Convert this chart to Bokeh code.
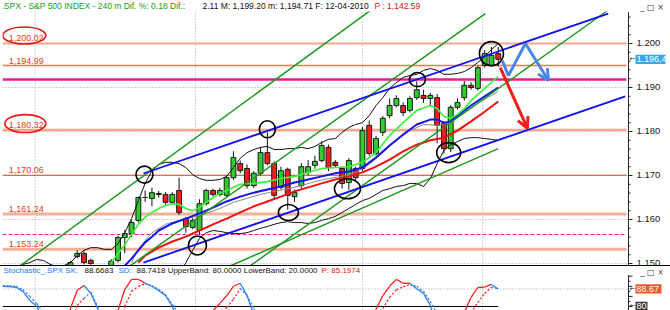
from bokeh.plotting import figure
from bokeh.models import Range1d, Label, Span, Arrow, OpenHead, Div, ColumnDataSource
from bokeh.layouts import column
from bokeh.embed import file_html
from bokeh.resources import INLINE
from bokeh.core.properties import value

# ---------------- data ----------------
bar_idx = list(range(64))
bar_open = [1149.5, 1151.6, 1152.3, 1150.7, 1149.0, 1147.6, 1149.5, 1150.7, 1155.9, 1156.8,
            1159.8, 1165.0, 1164.8, 1165.9, 1165.7, 1163.9, 1166.6, 1160.2, 1158.2, 1157.5,
            1163.6, 1166.6, 1165.7, 1165.5, 1169.5, 1172.7, 1171.6, 1167.7, 1170.5, 1175.2,
            1172.7, 1167.3, 1171.4, 1165.2, 1167.7, 1170.7, 1172.3, 1173.4, 1176.4, 1173.0,
            1171.6, 1168.4, 1171.6, 1171.6, 1181.4, 1175.0, 1179.8, 1183.6, 1185.9, 1185.9,
            1184.8, 1187.7, 1188.2, 1187.5, 1187.7, 1181.8, 1176.1, 1185.5, 1187.7, 1190.5,
            1189.8, 1195.0, 1195.0, 1197.7]
bar_high = [1150.6, 1153.0, 1152.8, 1151.1, 1149.6, 1149.3, 1151.0, 1156.3, 1157.6, 1159.8,
            1165.2, 1166.6, 1167.2, 1166.5, 1166.2, 1166.2, 1169.5, 1160.6, 1160.3, 1164.6,
            1167.0, 1167.0, 1167.2, 1170.0, 1175.5, 1173.4, 1172.5, 1171.0, 1176.4, 1179.8,
            1173.2, 1172.0, 1171.8, 1166.8, 1172.8, 1173.5, 1174.5, 1177.8, 1177.0, 1173.5,
            1172.0, 1174.0, 1172.0, 1181.0, 1182.5, 1179.0, 1183.5, 1187.5, 1188.2, 1186.6,
            1188.0, 1191.4, 1189.5, 1188.8, 1188.5, 1182.3, 1186.0, 1187.5, 1191.5, 1191.2,
            1195.0, 1198.5, 1199.2, 1199.2]
bar_low = [1149.0, 1151.2, 1149.8, 1149.4, 1147.0, 1147.0, 1149.0, 1150.2, 1152.3, 1156.0,
           1159.3, 1164.0, 1163.0, 1165.0, 1163.4, 1163.4, 1161.0, 1157.0, 1157.8, 1156.5,
           1163.2, 1165.3, 1165.2, 1165.0, 1169.0, 1170.5, 1167.0, 1167.2, 1170.0, 1172.3,
           1164.5, 1166.8, 1162.2, 1164.0, 1167.0, 1170.0, 1171.5, 1173.0, 1171.0, 1171.8,
           1167.0, 1166.7, 1169.0, 1171.0, 1174.5, 1174.5, 1179.0, 1183.0, 1185.5, 1183.5,
           1184.3, 1187.2, 1186.5, 1186.0, 1177.3, 1175.0, 1175.3, 1185.0, 1187.0, 1189.5,
           1189.3, 1194.5, 1194.7, 1194.71]
bar_close = [1150.2, 1152.3, 1150.2, 1150.0, 1147.5, 1148.8, 1150.5, 1155.9, 1156.8, 1159.3,
             1165.0, 1165.0, 1166.1, 1165.7, 1163.9, 1165.7, 1161.6, 1158.4, 1159.8, 1163.6,
             1166.6, 1165.7, 1166.6, 1169.5, 1174.1, 1171.1, 1167.7, 1170.5, 1175.2, 1172.7,
             1165.5, 1171.1, 1165.5, 1166.1, 1172.0, 1172.0, 1173.2, 1176.8, 1171.8, 1172.3,
             1168.2, 1173.4, 1169.5, 1180.2, 1175.0, 1178.4, 1183.0, 1185.9, 1187.5, 1184.3,
             1187.5, 1189.5, 1187.5, 1188.2, 1181.4, 1176.1, 1185.5, 1186.6, 1190.5, 1190.0,
             1194.5, 1197.7, 1197.3, 1196.4]

lime_idx = [6, 8, 9, 10, 11, 12, 13, 14, 15, 16, 17, 18, 19, 20, 21, 22, 23, 25, 27, 29, 31, 33, 35,
            37, 39, 41, 43, 45, 47, 49, 51, 53, 54, 55, 56, 57, 58, 59, 61, 63]
lime_val = [1150.2, 1154.3, 1156.6, 1158.9, 1160.5, 1161.6, 1162.5, 1163.2, 1163.6, 1163.4,
            1162.5, 1162.0, 1162.7, 1163.9, 1165.0, 1165.9, 1166.6, 1168.0, 1168.2, 1168.6,
            1169.3, 1169.8, 1170.7, 1171.6, 1171.8, 1172.0, 1173.0, 1175.2, 1179.1, 1182.0,
            1184.8, 1185.9, 1185.2, 1183.4, 1183.0, 1183.9, 1185.2, 1187.0, 1189.8, 1192.5]

blue_ma_idx = [8, 9, 10, 11, 12, 13, 15, 17, 19, 21, 23, 25, 27, 29, 31, 33, 35, 37, 39, 41, 43, 45,
               47, 49, 51, 53, 54, 55, 56, 57, 59, 61, 63]
blue_ma_val = [1149.5, 1151.1, 1153.0, 1154.8, 1156.1, 1157.5, 1159.1, 1160.2, 1161.4, 1162.7,
               1164.1, 1165.2, 1166.1, 1166.8, 1167.5, 1168.4, 1169.1, 1169.8, 1170.5, 1170.9,
               1171.8, 1174.1, 1176.8, 1179.3, 1181.6, 1182.7, 1182.7, 1182.0, 1182.3, 1183.6,
               1185.9, 1188.0, 1190.0]

gray_ma_idx = [9, 10, 12, 14, 16, 18, 20, 22, 24, 26, 28, 30, 32, 34, 36, 38, 40, 42, 44, 46, 48,
               50, 52, 54, 56, 58, 60, 62, 63]
gray_ma_val = [1150.2, 1153.4, 1157.0, 1158.9, 1159.8, 1160.5, 1161.4, 1162.5, 1163.9, 1164.8,
               1165.7, 1166.4, 1167.0, 1167.7, 1168.6, 1169.3, 1169.8, 1170.7, 1172.5, 1175.2,
               1178.0, 1180.2, 1181.6, 1181.4, 1182.0, 1184.3, 1186.4, 1188.2, 1189.1]

red_ma_idx = [10, 11, 13, 15, 17, 19, 21, 23, 25, 27, 29, 31, 33, 35, 37, 39, 41, 43, 45, 47, 49,
              51, 53, 55, 57, 59, 61, 63]
red_ma_val = [1150.2, 1151.8, 1153.6, 1155.0, 1156.1, 1157.5, 1158.9, 1160.2, 1161.6, 1163.0,
              1164.1, 1165.2, 1166.4, 1167.3, 1168.2, 1169.1, 1169.8, 1170.7, 1172.0, 1173.6,
              1175.5, 1177.0, 1178.0, 1178.6, 1180.2, 1182.3, 1184.5, 1186.8]

bb_up_idx = list(range(-10, 64))
bb_up_val = [1148.0, 1148.6, 1149.3, 1149.8, 1150.2, 1150.9, 1150.7, 1149.8, 1149.3, 1149.5,
             1150.2, 1151.8, 1153.0, 1153.6, 1153.6, 1153.2, 1153.2, 1154.5, 1157.0, 1160.2,
             1164.3, 1168.2, 1171.1, 1172.5, 1173.0, 1173.0, 1172.7, 1171.8, 1170.2, 1169.3,
             1168.9, 1168.9, 1169.1, 1169.8, 1171.8, 1173.9, 1175.2, 1175.9, 1176.4, 1176.6,
             1175.9, 1175.9, 1176.1, 1176.1, 1176.4, 1176.1, 1176.6, 1177.5, 1178.2, 1178.4,
             1179.8, 1180.9, 1181.6, 1182.0, 1183.6, 1185.9, 1187.7, 1189.8, 1191.1, 1192.3,
             1192.7, 1193.0, 1193.9, 1194.3, 1193.9, 1193.0, 1193.0, 1193.2, 1193.6, 1194.5,
             1195.7, 1197.0, 1198.6, 1200.0]

bb_lo_idx = list(range(14, 64))
bb_lo_val = [1143.0, 1145.0, 1147.5, 1150.2, 1153.0, 1155.7, 1157.0, 1157.5, 1157.3, 1157.0,
             1156.8, 1156.8, 1157.0, 1157.5, 1158.0, 1158.4, 1158.9, 1159.3, 1159.5, 1159.3,
             1159.3, 1159.1, 1159.3, 1159.8, 1160.2, 1160.7, 1161.6, 1162.5, 1163.4, 1164.3,
             1164.8, 1165.7, 1166.6, 1167.0, 1167.5, 1167.7, 1168.2, 1168.2, 1167.5, 1169.3,
             1172.7, 1175.7, 1177.0, 1177.7, 1178.4, 1178.6, 1178.6, 1178.4, 1178.2, 1178.0]

# horizontal price levels and their labels
level_prices = [1200.02, 1194.99, 1191.8, 1180.32, 1170.06, 1161.24, 1156.6, 1153.24]
label_prices = [1200.02, 1194.99, 1180.32, 1170.06, 1161.24, 1153.24]
label_texts = ["1,200.02", "1,194.99", "1,180.32", "1,170.06", "1,161.24", "1,153.24"]

price_ticks = [1150, 1160, 1170, 1180, 1190, 1200]
price_tick_labels = ["1.150", "1.160", "1.170", "1.180", "1.190", "1.200"]
price_minor = list(range(1150, 1208, 2))
grid_x = [-5.2, 18.4, 43.0, 60.7]

# drawn trend lines (start index, start price, end index, end price)
green_x0 = [-7.4, 8.8, 26.5, 23.6]
green_y0 = [1149.5, 1149.5, 1149.5, 1149.5]
green_x1 = [44.6, 61.1, 79.1, 63.0]
green_y1 = [1208.0, 1206.8, 1207.5, 1176.1]
blue_x0 = [10.75, 10.75]
blue_y0 = [1170.45, 1150.2]
blue_x1 = [79.2, 81.7]
blue_y1 = [1206.8, 1188.0]

# black marker circles (centre index, centre price)
mark_x = [10.9, 18.7, 29.0, 32.1, 40.8, 51.1, 55.7, 62.0]
mark_y = [1170.2, 1154.1, 1180.5, 1161.6, 1167.0, 1191.8, 1175.2, 1197.7]

# red forecast arrow and blue zigzag
red_arrow = [(63.3, 1194.5), (67.3, 1180.7)]
zig_x = [63.6, 64.5, 67.0, 70.4]
zig_y = [1196.1, 1192.7, 1200.0, 1191.6]

# stochastic
stoch_idx = list(range(-10, 64))
stoch_k = [90.0, 89.9, 89.5, 87.5, 83.0, 80.2, 74.0, 62.0, 55.0, 66.0,
           79.0, 88.0, 90.4, 86.5, 79.0, 68.0, 60.0, 78.0, 88.5, 93.4,
           93.4, 91.5, 90.0, 87.8, 85.5, 80.0, 72.0, 55.0, 45.0, 50.0,
           62.0, 78.0, 81.5, 85.3, 90.0, 91.5, 85.4, 76.0, 68.0, 60.0,
           45.0, 40.0, 30.0, 28.0, 35.0, 45.0, 55.0, 62.0, 58.0, 50.0,
           42.0, 48.0, 55.0, 68.0, 72.0, 78.5, 85.4, 90.0, 93.4, 91.5,
           91.4, 88.8, 86.5, 80.5, 68.0, 50.0, 52.0, 62.0, 77.0, 84.5,
           89.4, 89.6, 90.9, 88.67]
stoch_d = [90.3, 90.2, 90.0, 88.4, 85.0, 81.5, 77.5, 68.0, 60.0, 60.0,
           72.0, 80.5, 84.0, 87.2, 80.0, 72.0, 65.0, 70.0, 80.0, 87.5,
           90.0, 91.3, 90.2, 88.5, 85.8, 81.0, 76.0, 66.0, 55.0, 50.0,
           55.0, 64.0, 76.0, 79.5, 83.5, 88.9, 85.5, 79.0, 72.0, 65.0,
           55.0, 48.0, 40.0, 34.0, 32.0, 35.0, 42.0, 50.0, 55.0, 55.0,
           50.0, 47.0, 50.0, 56.0, 63.0, 70.0, 79.0, 84.5, 88.3, 89.8,
           90.8, 90.0, 87.5, 82.5, 76.0, 65.0, 55.0, 55.0, 62.0, 77.0,
           82.0, 86.5, 89.5, 88.74]
stoch_upper_band = 80.0
stoch_ticks = [80, 85, 90, 95]
stoch_minor = [82.5, 87.5, 92.5]

FONT = "Liberation Sans"
X0, X1 = -10.01, 88.37          # visible index range (frame spans the full width)
AX = 82.18                       # index where the price axis sits
PX = 668.0 / (X1 - X0)           # pixels per index unit

# ---------------- main price panel ----------------
p1 = figure(width=670, height=265, title=None, x_range=Range1d(X0, X1),
            y_range=Range1d(1149.545, 1209.77), output_backend="svg", toolbar_location=None,
            y_axis_location=None, x_axis_location=None,
            min_border_left=2, min_border_right=0, min_border_top=0, min_border_bottom=0)
p1.outline_line_color = None
p1.grid.visible = False
p1.background_fill_color = "white"
p1.border_fill_color = "white"

# grid
p1.segment(x0=[X0] * len(price_ticks), y0=price_ticks, x1=[AX] * len(price_ticks), y1=price_ticks,
           line_color="#a8a8a8", line_dash="1 2", line_width=1)
for gx in grid_x:
    p1.add_layout(Span(location=gx, dimension="height", line_color="#a8a8a8",
                       line_dash="1 2", line_width=1, level="underlay"))

# level lines
level_styles = [("#F6A88C", 2, "solid"), ("#F27A50", 1.5, "solid"), ("#EC1C8C", 2.5, "solid"),
                ("#F6A88C", 2.5, "solid"), ("#E5401C", 1.2, "solid"), ("#F6B09A", 3, "solid"),
                ("#EC1C8C", 1, "4 2"), ("#F6B09A", 3, "solid")]
for lv, (lc, lw, ld) in zip(level_prices, level_styles):
    p1.line([X0, AX - 0.3], [lv, lv], line_color=lc, line_width=lw, line_dash=ld)

# candles
cs = ColumnDataSource(dict(
    x=bar_idx, h=bar_high, l=bar_low,
    top=[max(o, c) for o, c in zip(bar_open, bar_close)],
    bottom=[min(o, c) for o, c in zip(bar_open, bar_close)],
    fill=["#2FCB2F" if c >= o else "#EE1E1E" for o, c in zip(bar_open, bar_close)],
))
p1.segment(x0="x", y0="l", x1="x", y1="h", source=cs, line_color="#111111", line_width=1)
p1.vbar(x="x", width=0.72, top="top", bottom="bottom", source=cs,
        fill_color="fill", line_color="#1a1a1a", line_width=1)

# bands and moving averages
p1.line(bb_up_idx, bb_up_val, line_color="#111111", line_width=1)
p1.line(bb_lo_idx, bb_lo_val, line_color="#111111", line_width=1)
p1.line(red_ma_idx, red_ma_val, line_color="#F01010", line_width=2)
p1.line(gray_ma_idx, gray_ma_val, line_color="#8A8A8A", line_width=1)
p1.line(blue_ma_idx, blue_ma_val, line_color="#1414F0", line_width=2)
p1.line(lime_idx, lime_val, line_color="#3CF03C", line_width=1.6)

# trend lines
p1.segment(x0=green_x0, y0=green_y0, x1=green_x1, y1=green_y1,
           line_color="#1F9A1F", line_width=1.5)
p1.segment(x0=blue_x0, y0=blue_y0, x1=blue_x1, y1=blue_y1,
           line_color="#1010F0", line_width=1.8)

# circles
p1.ellipse(x=mark_x, y=mark_y, width=[17, 18, 16, 20, 26, 16, 24, 24],
           height=[17, 19, 17, 16, 20, 14, 20, 24], width_units="screen", height_units="screen",
           fill_color=None, line_color="black", line_width=1.6)

# level labels + red ellipses
p1.text(x=[-9.1] * len(label_prices), y=label_prices, text=label_texts,
        text_font=value(FONT), text_font_size="9px", text_color="#E3401A",
        text_baseline="bottom", y_offset=-2)
p1.ellipse(x=[-6.8, -6.65], y=[1201.8, 1181.8], width=[43, 41], height=[17, 18],
           width_units="screen", height_units="screen", fill_color=None,
           line_color="#E81818", line_width=1.6)

# forecast arrows
p1.add_layout(Arrow(x_start=red_arrow[0][0], y_start=red_arrow[0][1],
                    x_end=red_arrow[1][0], y_end=red_arrow[1][1],
                    line_color="#F41C1C", line_width=3,
                    end=OpenHead(size=11, line_color="#F41C1C", line_width=3)))
p1.line(zig_x[:3], zig_y[:3], line_color="#4A86E8", line_width=3)
p1.add_layout(Arrow(x_start=zig_x[2], y_start=zig_y[2], x_end=zig_x[3], y_end=zig_y[3],
                    line_color="#4A86E8", line_width=3,
                    end=OpenHead(size=11, line_color="#4A86E8", line_width=3)))

# header band
p1.quad(left=[X0 - 1], right=[X1 + 1], bottom=[1207.27], top=[1215], fill_color="white",
        line_color=None)

# price axis (drawn by hand on the right)
p1.segment(x0=[AX], y0=[1149.545], x1=[AX], y1=[1207.1], line_color="#222222", line_width=1)
p1.segment(x0=[AX] * len(price_ticks), y0=price_ticks, x1=[AX + 4 / PX] * len(price_ticks),
           y1=price_ticks, line_color="#222222", line_width=1)
p1.segment(x0=[AX] * len(price_minor), y0=price_minor, x1=[AX + 2 / PX] * len(price_minor),
           y1=price_minor, line_color="#222222", line_width=1)
p1.text(x=[AX + 8 / PX] * len(price_ticks), y=price_ticks, text=price_tick_labels,
        text_font=value(FONT), text_font_size="9.5px", text_color="#202020",
        text_baseline="middle")

last = bar_close[-1]
last_txt = f"{last:,.1f}".replace(",", "_").replace(".", ",").replace("_", ".")
p1.quad(left=[AX + 7 / PX], right=[AX + 37 / PX], bottom=[last - 1.05], top=[last + 1.05],
        fill_color="#36A8EE", line_color=None)
p1.text(x=[AX + 8 / PX], y=[last], text=[last_txt], text_font=value(FONT),
        text_font_size="9px", text_color="white", text_baseline="middle")
p1.text(x=[AX + 1 / PX], y=[last], text=["←"], text_font=value("DejaVu Sans"),
        text_font_size="7px", text_color="#222222", text_baseline="middle")

hdr = [(".SPX - S&P 500 INDEX -  240 m  Dif. %:  0.18  Dif.:", -1, "#14A014"),
       ("2.11  M: 1,199.20  m: 1,194.71  F: 12-04-2010", 200, "#111111"),
       ("P : 1,142.59", 372, "#E81010")]
for txt, xx, col in hdr:
    p1.add_layout(Label(x=xx, y=260, x_units="screen", y_units="screen", text=txt,
                        text_color=col, text_font=FONT, text_font_size="8.5px",
                        text_baseline="middle"))
p1.add_layout(Label(x=638, y=258, x_units="screen", y_units="screen", text="_ □ ×",
                    text_color="#444444", text_font="DejaVu Sans", text_font_size="8px",
                    text_baseline="middle"))

# ---------------- stochastic panel ----------------
p2 = figure(width=670, height=44, title=None, x_range=p1.x_range, y_range=Range1d(78.0, 99.8),
            output_backend="svg", toolbar_location=None, y_axis_location=None,
            x_axis_location=None, min_border_left=2, min_border_right=0,
            min_border_top=0, min_border_bottom=0)
p2.outline_line_color = None
p2.grid.visible = False

p2.segment(x0=[X0], y0=[stoch_k[-1]], x1=[AX], y1=[stoch_k[-1]], line_color="#a8a8a8",
           line_dash="1 2", line_width=1)
for gx in grid_x:
    p2.add_layout(Span(location=gx, dimension="height", line_color="#a8a8a8",
                       line_dash="1 2", line_width=1, level="underlay"))

p2.line([stoch_idx[0], stoch_idx[-1]], [stoch_upper_band, stoch_upper_band],
        line_color="black", line_width=1)

state = ["#FF2020" if k >= d else "#2F80F0" for k, d in zip(stoch_k, stoch_d)]
seg_col = state[1:]
p2.segment(x0=stoch_idx[:-1], y0=stoch_d[:-1], x1=stoch_idx[1:], y1=stoch_d[1:],
           line_color=seg_col, line_width=1.3, line_dash="2 2")
p2.segment(x0=stoch_idx[:-1], y0=stoch_k[:-1], x1=stoch_idx[1:], y1=stoch_k[1:],
           line_color=seg_col, line_width=1.3)

# stochastic axis
p2.segment(x0=[AX], y0=[78.0], x1=[AX], y1=[95.5], line_color="#222222", line_width=1)
p2.segment(x0=[AX] * len(stoch_ticks), y0=stoch_ticks, x1=[AX + 4 / PX] * len(stoch_ticks),
           y1=stoch_ticks, line_color="#222222", line_width=1)
p2.segment(x0=[AX] * len(stoch_minor), y0=stoch_minor, x1=[AX + 2 / PX] * len(stoch_minor),
           y1=stoch_minor, line_color="#222222", line_width=1)
kl = stoch_k[-1]
p2.quad(left=[AX + 7 / PX], right=[AX + 33 / PX], bottom=[kl - 2.3], top=[kl + 2.3],
        fill_color="#F0582A", line_color=None)
p2.text(x=[AX + 8 / PX], y=[kl], text=[f"{kl:.2f}"], text_font=value(FONT),
        text_font_size="9px", text_color="white", text_baseline="middle")
p2.quad(left=[AX + 7 / PX], right=[AX + 19 / PX], bottom=[stoch_upper_band - 2.3],
        top=[stoch_upper_band + 2.3], fill_color="#3A3A3A", line_color=None)
p2.text(x=[AX + 8 / PX], y=[stoch_upper_band], text=[f"{stoch_upper_band:.0f}"],
        text_font=value(FONT), text_font_size="9px", text_color="white", text_baseline="middle")
p2.text(x=[AX + 1 / PX, AX + 1 / PX], y=[kl, stoch_upper_band], text=["←", "←"],
        text_font=value("DejaVu Sans"), text_font_size="7px", text_color="#222222",
        text_baseline="middle")

shdr = [("Stochastic_.SPX SK:", 1, "#1E78E6"), ("88.6683", 82, "#111111"),
        ("SD:", 116, "#1E78E6"), ("88.7418 UpperBand: 80.0000 LowerBand: 20.0000", 134, "#111111"),
        ("P: 85.1974", 319, "#E81010")]
for txt, xx, col in shdr:
    p2.add_layout(Label(x=xx, y=40, x_units="screen", y_units="screen", text=txt,
                        text_color=col, text_font=FONT, text_font_size="8px",
                        text_baseline="middle"))
p2.add_layout(Label(x=638, y=38, x_units="screen", y_units="screen", text="_ □ ×",
                    text_color="#444444", text_font="DejaVu Sans", text_font_size="8px",
                    text_baseline="middle"))

sep = Div(text="", width=670, height=1, margin=(0, 0, 0, 0),
          styles={"background-color": "#000000"})

layout = column(p1, sep, p2, spacing=0)
open("out.html", "w").write(file_html(layout, INLINE))
